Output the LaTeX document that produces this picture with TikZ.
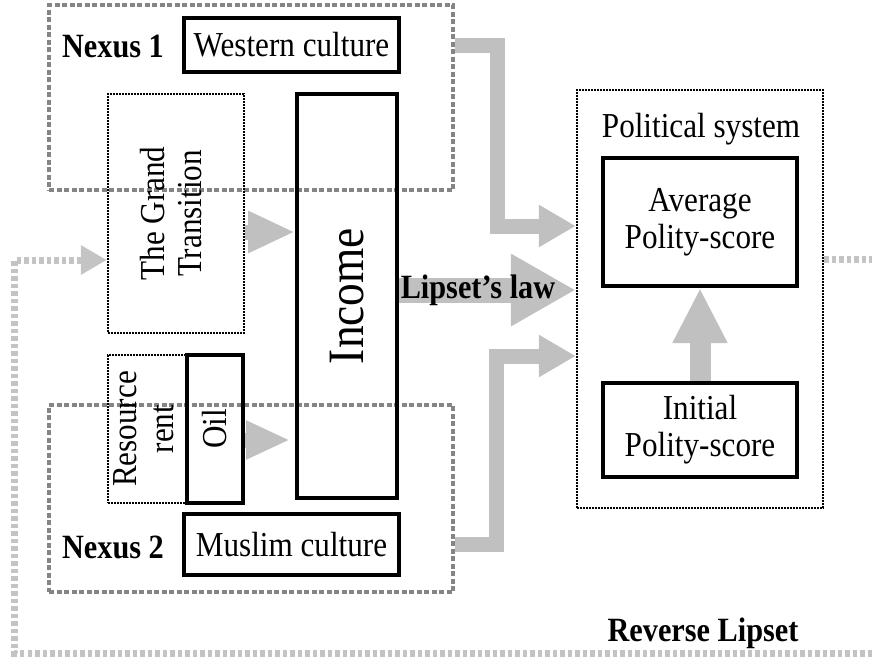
\documentclass[tikz,border=0pt]{standalone}
\usepackage{fontspec}
\setmainfont{Liberation Serif}[FakeStretch=0.89]
\usetikzlibrary{arrows.meta,calc}
\definecolor{arrowgray}{HTML}{C0C0C0}
\definecolor{nexusgray}{HTML}{858585}
\definecolor{loopgray}{HTML}{C4C4C4}

\begin{document}
\begin{tikzpicture}[x=1pt,y=-1pt,font=\fontsize{35}{37}\selectfont,
	solidbox/.style={draw,line width=4pt,inner sep=0pt,align=center},
	dotbox/.style={draw,line width=2.5pt,dash pattern=on 2pt off 1pt,inner sep=0pt},
	nexusbox/.style={draw=nexusgray,line width=4pt,dash pattern=on 5pt off 2.5pt,inner sep=0pt},
	boldlabel/.style={inner sep=0pt,font=\bfseries\fontsize{34}{36}\selectfont},
	grayarrow/.style={draw=arrowgray,line width=15pt,-{Triangle[length=37pt,width=40pt]}},
	loopline/.style={draw=loopgray,line width=7pt,dash pattern=on 4.5pt off 3pt}]
				\useasboundingbox (0,0) rectangle (872,662);
				
				\node[nexusbox,minimum width=404pt,minimum height=185pt] (nexus1) at (251,97.5) {};
				\node[nexusbox,minimum width=404pt,minimum height=187pt] (nexus2) at (251,498.5) {};
				
				\node[boldlabel] (nexus1label) at (113,46) {Nexus 1};
				\node[solidbox,minimum width=215pt,minimum height=54pt] (western) at (291.5,45) {Western culture};
				\node[boldlabel] (nexus2label) at (113,547) {Nexus 2};
				\node[solidbox,minimum width=215pt,minimum height=61pt] (muslim) at (291.5,544.5) {Muslim culture};
				
				\node[dotbox,minimum width=136pt,minimum height=239pt] (transition) at (176,213.5)
					{\rotatebox{90}{\begin{tabular}{@{}c@{}}The Grand\\Transition\end{tabular}}\hspace{0pt}};
				\node[dotbox,minimum width=79pt,minimum height=148pt] (rent) at (147.5,429)
					{\rotatebox{90}{\begin{tabular}{@{}c@{}}Resource\\rent\end{tabular}}};
				\node[solidbox,minimum width=56pt,minimum height=148pt] (oil) at (215,429) {\rotatebox{90}{Oil}};
				\node[solidbox,minimum width=100pt,minimum height=404pt,font=\fontsize{51}{54}\selectfont] (income) at (347,296) {\rotatebox{90}{Income}};
				
				\node[dotbox,minimum width=246pt,minimum height=418pt] (polsys) at (700,299) {};
				\node[anchor=base] (polsyslabel) at (701,137) {Political system};
				\node[solidbox,minimum width=194pt,minimum height=128pt] (average) at (700,222) {Average\\Polity-score};
				\node[solidbox,minimum width=194pt,minimum height=94pt] (initial) at (700,430) {Initial\\Polity-score};
				
				\coordinate (bendwest) at (497,226);
				\coordinate (bendmuslim) at (496,356);
				\draw[grayarrow] (nexus1.east |- western.east) -| (bendwest) -- (bendwest -| polsys.west);
				\draw[grayarrow] (nexus2.east |- muslim.east) -| (bendmuslim) -- (bendmuslim -| polsys.west);
				\draw[grayarrow,-{Triangle[length=47pt,width=39pt]}] ($(transition.east)+(0,18.5)$) -- ($(transition.east -| income.west)+(0,18.5)$);
				\draw[grayarrow,-{Triangle[length=44pt,width=36pt]},shorten >=5pt] ($(oil.east)+(0,11)$) -- ($(oil.east -| income.west)+(0,11)$);
				\draw[grayarrow,line width=25pt,-{Triangle[length=65pt,width=68pt]}] ($(income.east)+(0,-6)$) -- ($(income.east -| polsys.west)+(0,-6)$);
				\node[boldlabel] (lipsetlabel) at (478,290) {Lipset’s law};
				\draw[grayarrow,line width=21pt,-{Triangle[length=55pt,width=51pt]}] (initial.north) -- (average.south);
				
				\coordinate (loopne) at (872,259);
				\coordinate (loopse) at (872,653);
				\coordinate (loopsw) at (14.5,653);
				\coordinate (loopnw) at (14.5,260);
				\draw[loopline] (loopne -| polsys.east) -- (loopne);
				\draw[loopline,-{Triangle[length=26pt,width=28pt]}] (loopse) -- (loopsw) -- (loopnw) -- (loopnw -| transition.west);
				\node[boldlabel] (reverselabel) at (703,633) {Reverse Lipset};
			\end{tikzpicture}
\end{document}
